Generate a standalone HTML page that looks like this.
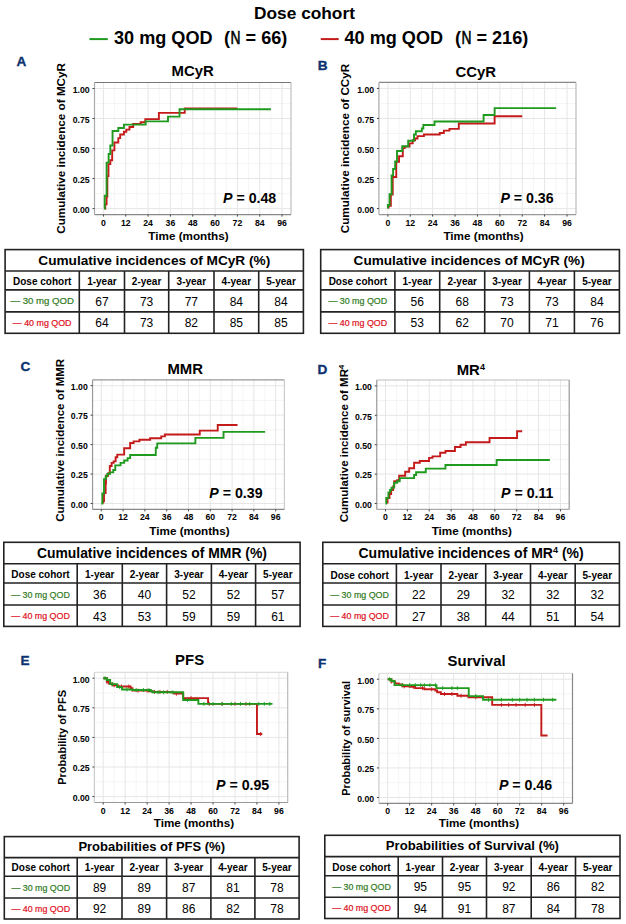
<!DOCTYPE html>
<html><head><meta charset="utf-8"><title>Dose cohort</title>
<style>
html,body{margin:0;padding:0;background:#fff;}
body{width:626px;height:924px;overflow:hidden;}
svg{display:block;font-family:"Liberation Sans", sans-serif;}
</style></head><body>
<svg width="626" height="924" viewBox="0 0 626 924">
<rect width="626" height="924" fill="#fff"/>
<text x="304.5" y="19.2" font-size="17.3" font-weight="bold" text-anchor="middle">Dose cohort</text>
<line x1="89.4" y1="39.1" x2="107.8" y2="39.1" stroke="#1f9a1f" stroke-width="2"/>
<text x="114" y="43.5" font-size="18.1" font-weight="bold">30 mg QOD</text>
<text x="224" y="43.5" font-size="18.1" font-weight="bold">(<tspan font-weight="normal" stroke="#000" stroke-width="0.6" dx="0.5" textLength="10" lengthAdjust="spacingAndGlyphs">N</tspan> = 66)</text>
<line x1="320.8" y1="39.1" x2="338.7" y2="39.1" stroke="#c41a1a" stroke-width="2"/>
<text x="344.5" y="43.5" font-size="18.1" font-weight="bold">40 mg QOD</text>
<text x="454.9" y="43.5" font-size="18.1" font-weight="bold">(<tspan font-weight="normal" stroke="#000" stroke-width="0.6" dx="0.5" textLength="10" lengthAdjust="spacingAndGlyphs">N</tspan> = 216)</text>
<rect x="94.5" y="82.5" width="196.5" height="132.1" fill="#fff"/>
<line x1="114.6" y1="82.5" x2="114.6" y2="214.6" stroke="#f1f1f1" stroke-width="0.7"/>
<line x1="136.93" y1="82.5" x2="136.93" y2="214.6" stroke="#f1f1f1" stroke-width="0.7"/>
<line x1="159.26" y1="82.5" x2="159.26" y2="214.6" stroke="#f1f1f1" stroke-width="0.7"/>
<line x1="181.59" y1="82.5" x2="181.59" y2="214.6" stroke="#f1f1f1" stroke-width="0.7"/>
<line x1="203.91" y1="82.5" x2="203.91" y2="214.6" stroke="#f1f1f1" stroke-width="0.7"/>
<line x1="226.24" y1="82.5" x2="226.24" y2="214.6" stroke="#f1f1f1" stroke-width="0.7"/>
<line x1="248.57" y1="82.5" x2="248.57" y2="214.6" stroke="#f1f1f1" stroke-width="0.7"/>
<line x1="270.9" y1="82.5" x2="270.9" y2="214.6" stroke="#f1f1f1" stroke-width="0.7"/>
<line x1="94.5" y1="193.58" x2="291" y2="193.58" stroke="#f1f1f1" stroke-width="0.7"/>
<line x1="94.5" y1="163.56" x2="291" y2="163.56" stroke="#f1f1f1" stroke-width="0.7"/>
<line x1="94.5" y1="133.54" x2="291" y2="133.54" stroke="#f1f1f1" stroke-width="0.7"/>
<line x1="94.5" y1="103.52" x2="291" y2="103.52" stroke="#f1f1f1" stroke-width="0.7"/>
<line x1="103.43" y1="82.5" x2="103.43" y2="214.6" stroke="#e6e6e6" stroke-width="1"/>
<line x1="125.76" y1="82.5" x2="125.76" y2="214.6" stroke="#e6e6e6" stroke-width="1"/>
<line x1="148.09" y1="82.5" x2="148.09" y2="214.6" stroke="#e6e6e6" stroke-width="1"/>
<line x1="170.42" y1="82.5" x2="170.42" y2="214.6" stroke="#e6e6e6" stroke-width="1"/>
<line x1="192.75" y1="82.5" x2="192.75" y2="214.6" stroke="#e6e6e6" stroke-width="1"/>
<line x1="215.08" y1="82.5" x2="215.08" y2="214.6" stroke="#e6e6e6" stroke-width="1"/>
<line x1="237.41" y1="82.5" x2="237.41" y2="214.6" stroke="#e6e6e6" stroke-width="1"/>
<line x1="259.74" y1="82.5" x2="259.74" y2="214.6" stroke="#e6e6e6" stroke-width="1"/>
<line x1="282.07" y1="82.5" x2="282.07" y2="214.6" stroke="#e6e6e6" stroke-width="1"/>
<line x1="94.5" y1="208.6" x2="291" y2="208.6" stroke="#e6e6e6" stroke-width="1"/>
<line x1="94.5" y1="178.57" x2="291" y2="178.57" stroke="#e6e6e6" stroke-width="1"/>
<line x1="94.5" y1="148.55" x2="291" y2="148.55" stroke="#e6e6e6" stroke-width="1"/>
<line x1="94.5" y1="118.53" x2="291" y2="118.53" stroke="#e6e6e6" stroke-width="1"/>
<line x1="94.5" y1="88.5" x2="291" y2="88.5" stroke="#e6e6e6" stroke-width="1"/>
<path d="M104.92,208.6 H105.29 V204.39 H106.6 V196.59 H107.34 V176.17 H108.46 V164.16 H110.32 V160.2 H112.18 V150.35 H114.41 V142.43 H118.32 V138.1 H120.18 V134.5 H123.9 V131.74 H126.32 V129.58 H129.48 V127.05 H133.2 V124.05 H140.65 V122.25 H145.3 V119.13 H158.88 V112.88 H184.75 V108.44 H237.41" fill="none" stroke="#c41a1a" stroke-width="1.9" stroke-linejoin="miter"/>
<path d="M103.99,208.6 H104.73 V195.75 H106.6 V162.6 H108.64 V154.07 H110.32 V145.43 H112.55 V131.02 H118.32 V128.01 H123.9 V124.65 H145.67 V121.41 H168 V116.61 H179.54 V109.28 H270.9" fill="none" stroke="#1f9a1f" stroke-width="1.9" stroke-linejoin="miter"/>
<line x1="94.5" y1="82.5" x2="291" y2="82.5" stroke="#777" stroke-width="1.2"/>
<line x1="291" y1="82.5" x2="291" y2="214.6" stroke="#c0c0c0" stroke-width="1.2"/>
<line x1="94.5" y1="214.6" x2="291" y2="214.6" stroke="#888" stroke-width="1.2"/>
<line x1="94.5" y1="82.5" x2="94.5" y2="214.6" stroke="#aaa" stroke-width="1.2"/>
<line x1="92.5" y1="208.6" x2="94.5" y2="208.6" stroke="#444" stroke-width="1"/>
<text x="89.7" y="212.9" font-size="8.7" font-weight="bold" text-anchor="end" fill="#000" >0.00</text>
<line x1="92.5" y1="178.57" x2="94.5" y2="178.57" stroke="#444" stroke-width="1"/>
<text x="89.7" y="182.87" font-size="8.7" font-weight="bold" text-anchor="end" fill="#000" >0.25</text>
<line x1="92.5" y1="148.55" x2="94.5" y2="148.55" stroke="#444" stroke-width="1"/>
<text x="89.7" y="152.85" font-size="8.7" font-weight="bold" text-anchor="end" fill="#000" >0.50</text>
<line x1="92.5" y1="118.53" x2="94.5" y2="118.53" stroke="#444" stroke-width="1"/>
<text x="89.7" y="122.83" font-size="8.7" font-weight="bold" text-anchor="end" fill="#000" >0.75</text>
<line x1="92.5" y1="88.5" x2="94.5" y2="88.5" stroke="#444" stroke-width="1"/>
<text x="89.7" y="92.8" font-size="8.7" font-weight="bold" text-anchor="end" fill="#000" >1.00</text>
<line x1="103.43" y1="214.6" x2="103.43" y2="216.6" stroke="#444" stroke-width="1"/>
<text x="103.43" y="225.6" font-size="8.7" font-weight="bold" text-anchor="middle" fill="#000" >0</text>
<line x1="125.76" y1="214.6" x2="125.76" y2="216.6" stroke="#444" stroke-width="1"/>
<text x="125.76" y="225.6" font-size="8.7" font-weight="bold" text-anchor="middle" fill="#000" >12</text>
<line x1="148.09" y1="214.6" x2="148.09" y2="216.6" stroke="#444" stroke-width="1"/>
<text x="148.09" y="225.6" font-size="8.7" font-weight="bold" text-anchor="middle" fill="#000" >24</text>
<line x1="170.42" y1="214.6" x2="170.42" y2="216.6" stroke="#444" stroke-width="1"/>
<text x="170.42" y="225.6" font-size="8.7" font-weight="bold" text-anchor="middle" fill="#000" >36</text>
<line x1="192.75" y1="214.6" x2="192.75" y2="216.6" stroke="#444" stroke-width="1"/>
<text x="192.75" y="225.6" font-size="8.7" font-weight="bold" text-anchor="middle" fill="#000" >48</text>
<line x1="215.08" y1="214.6" x2="215.08" y2="216.6" stroke="#444" stroke-width="1"/>
<text x="215.08" y="225.6" font-size="8.7" font-weight="bold" text-anchor="middle" fill="#000" >60</text>
<line x1="237.41" y1="214.6" x2="237.41" y2="216.6" stroke="#444" stroke-width="1"/>
<text x="237.41" y="225.6" font-size="8.7" font-weight="bold" text-anchor="middle" fill="#000" >72</text>
<line x1="259.74" y1="214.6" x2="259.74" y2="216.6" stroke="#444" stroke-width="1"/>
<text x="259.74" y="225.6" font-size="8.7" font-weight="bold" text-anchor="middle" fill="#000" >84</text>
<line x1="282.07" y1="214.6" x2="282.07" y2="216.6" stroke="#444" stroke-width="1"/>
<text x="282.07" y="225.6" font-size="8.7" font-weight="bold" text-anchor="middle" fill="#000" >96</text>
<text x="16.5" y="65.8" font-size="13.6" font-weight="bold" text-anchor="start" fill="#0e3270" stroke="#0e3270" stroke-width="0.35">A</text>
<text x="192.6" y="76.3" font-size="14.9" font-weight="bold" text-anchor="middle" fill="#000" >MCyR</text>
<text transform="translate(65.4,148.4) rotate(-90)" font-size="11.7" font-weight="bold" text-anchor="middle">Cumulative incidence of MCyR</text>
<text x="188.5" y="240.3" font-size="11.7" font-weight="bold" text-anchor="middle" fill="#000" >Time (months)</text>
<text x="223" y="202.7" font-size="14.2" font-weight="bold"><tspan font-style="italic">P</tspan> = 0.48</text>
<rect x="378.9" y="82.4" width="197.1" height="132.2" fill="#fff"/>
<line x1="399.06" y1="82.4" x2="399.06" y2="214.6" stroke="#f1f1f1" stroke-width="0.7"/>
<line x1="421.46" y1="82.4" x2="421.46" y2="214.6" stroke="#f1f1f1" stroke-width="0.7"/>
<line x1="443.85" y1="82.4" x2="443.85" y2="214.6" stroke="#f1f1f1" stroke-width="0.7"/>
<line x1="466.25" y1="82.4" x2="466.25" y2="214.6" stroke="#f1f1f1" stroke-width="0.7"/>
<line x1="488.65" y1="82.4" x2="488.65" y2="214.6" stroke="#f1f1f1" stroke-width="0.7"/>
<line x1="511.05" y1="82.4" x2="511.05" y2="214.6" stroke="#f1f1f1" stroke-width="0.7"/>
<line x1="533.44" y1="82.4" x2="533.44" y2="214.6" stroke="#f1f1f1" stroke-width="0.7"/>
<line x1="555.84" y1="82.4" x2="555.84" y2="214.6" stroke="#f1f1f1" stroke-width="0.7"/>
<line x1="378.9" y1="193.57" x2="576" y2="193.57" stroke="#f1f1f1" stroke-width="0.7"/>
<line x1="378.9" y1="163.52" x2="576" y2="163.52" stroke="#f1f1f1" stroke-width="0.7"/>
<line x1="378.9" y1="133.48" x2="576" y2="133.48" stroke="#f1f1f1" stroke-width="0.7"/>
<line x1="378.9" y1="103.43" x2="576" y2="103.43" stroke="#f1f1f1" stroke-width="0.7"/>
<line x1="387.86" y1="82.4" x2="387.86" y2="214.6" stroke="#e6e6e6" stroke-width="1"/>
<line x1="410.26" y1="82.4" x2="410.26" y2="214.6" stroke="#e6e6e6" stroke-width="1"/>
<line x1="432.65" y1="82.4" x2="432.65" y2="214.6" stroke="#e6e6e6" stroke-width="1"/>
<line x1="455.05" y1="82.4" x2="455.05" y2="214.6" stroke="#e6e6e6" stroke-width="1"/>
<line x1="477.45" y1="82.4" x2="477.45" y2="214.6" stroke="#e6e6e6" stroke-width="1"/>
<line x1="499.85" y1="82.4" x2="499.85" y2="214.6" stroke="#e6e6e6" stroke-width="1"/>
<line x1="522.25" y1="82.4" x2="522.25" y2="214.6" stroke="#e6e6e6" stroke-width="1"/>
<line x1="544.64" y1="82.4" x2="544.64" y2="214.6" stroke="#e6e6e6" stroke-width="1"/>
<line x1="567.04" y1="82.4" x2="567.04" y2="214.6" stroke="#e6e6e6" stroke-width="1"/>
<line x1="378.9" y1="208.59" x2="576" y2="208.59" stroke="#e6e6e6" stroke-width="1"/>
<line x1="378.9" y1="178.55" x2="576" y2="178.55" stroke="#e6e6e6" stroke-width="1"/>
<line x1="378.9" y1="148.5" x2="576" y2="148.5" stroke="#e6e6e6" stroke-width="1"/>
<line x1="378.9" y1="118.45" x2="576" y2="118.45" stroke="#e6e6e6" stroke-width="1"/>
<line x1="378.9" y1="88.41" x2="576" y2="88.41" stroke="#e6e6e6" stroke-width="1"/>
<path d="M388.61,208.59 H388.61 V205.83 H390.85 V194.65 H392.71 V176.98 H396.26 V161.84 H399.06 V156.19 H402.79 V148.14 H404.66 V146.58 H409.51 V143.33 H412.68 V140.21 H415.11 V138.52 H417.54 V136.12 H423.88 V134.56 H439.75 V133 H443.85 V130.59 H449.45 V128.91 H458.79 V123.5 H494.62 V116.29 H522.25" fill="none" stroke="#c41a1a" stroke-width="1.9" stroke-linejoin="miter"/>
<path d="M387.86,208.59 H387.86 V204.99 H389.54 V194.29 H391.59 V175.42 H393.09 V169.05 H395.14 V161.48 H397 V151.02 H402.23 V146.22 H408.2 V140.69 H413.99 V134.56 H415.86 V131.31 H421.83 V128.43 H423.32 V124.94 H434.52 V121.46 H483.61 V114.97 H494.62 V108.12 H556.22" fill="none" stroke="#1f9a1f" stroke-width="1.9" stroke-linejoin="miter"/>
<line x1="378.9" y1="82.4" x2="576" y2="82.4" stroke="#888" stroke-width="1.2"/>
<line x1="576" y1="82.4" x2="576" y2="214.6" stroke="#bbb" stroke-width="1.2"/>
<line x1="378.9" y1="214.6" x2="576" y2="214.6" stroke="#999" stroke-width="1.2"/>
<line x1="378.9" y1="82.4" x2="378.9" y2="214.6" stroke="#aaa" stroke-width="1.2"/>
<line x1="376.9" y1="208.59" x2="378.9" y2="208.59" stroke="#444" stroke-width="1"/>
<text x="374.1" y="212.89" font-size="8.7" font-weight="bold" text-anchor="end" fill="#000" >0.00</text>
<line x1="376.9" y1="178.55" x2="378.9" y2="178.55" stroke="#444" stroke-width="1"/>
<text x="374.1" y="182.85" font-size="8.7" font-weight="bold" text-anchor="end" fill="#000" >0.25</text>
<line x1="376.9" y1="148.5" x2="378.9" y2="148.5" stroke="#444" stroke-width="1"/>
<text x="374.1" y="152.8" font-size="8.7" font-weight="bold" text-anchor="end" fill="#000" >0.50</text>
<line x1="376.9" y1="118.45" x2="378.9" y2="118.45" stroke="#444" stroke-width="1"/>
<text x="374.1" y="122.75" font-size="8.7" font-weight="bold" text-anchor="end" fill="#000" >0.75</text>
<line x1="376.9" y1="88.41" x2="378.9" y2="88.41" stroke="#444" stroke-width="1"/>
<text x="374.1" y="92.71" font-size="8.7" font-weight="bold" text-anchor="end" fill="#000" >1.00</text>
<line x1="387.86" y1="214.6" x2="387.86" y2="216.6" stroke="#444" stroke-width="1"/>
<text x="387.86" y="225.6" font-size="8.7" font-weight="bold" text-anchor="middle" fill="#000" >0</text>
<line x1="410.26" y1="214.6" x2="410.26" y2="216.6" stroke="#444" stroke-width="1"/>
<text x="410.26" y="225.6" font-size="8.7" font-weight="bold" text-anchor="middle" fill="#000" >12</text>
<line x1="432.65" y1="214.6" x2="432.65" y2="216.6" stroke="#444" stroke-width="1"/>
<text x="432.65" y="225.6" font-size="8.7" font-weight="bold" text-anchor="middle" fill="#000" >24</text>
<line x1="455.05" y1="214.6" x2="455.05" y2="216.6" stroke="#444" stroke-width="1"/>
<text x="455.05" y="225.6" font-size="8.7" font-weight="bold" text-anchor="middle" fill="#000" >36</text>
<line x1="477.45" y1="214.6" x2="477.45" y2="216.6" stroke="#444" stroke-width="1"/>
<text x="477.45" y="225.6" font-size="8.7" font-weight="bold" text-anchor="middle" fill="#000" >48</text>
<line x1="499.85" y1="214.6" x2="499.85" y2="216.6" stroke="#444" stroke-width="1"/>
<text x="499.85" y="225.6" font-size="8.7" font-weight="bold" text-anchor="middle" fill="#000" >60</text>
<line x1="522.25" y1="214.6" x2="522.25" y2="216.6" stroke="#444" stroke-width="1"/>
<text x="522.25" y="225.6" font-size="8.7" font-weight="bold" text-anchor="middle" fill="#000" >72</text>
<line x1="544.64" y1="214.6" x2="544.64" y2="216.6" stroke="#444" stroke-width="1"/>
<text x="544.64" y="225.6" font-size="8.7" font-weight="bold" text-anchor="middle" fill="#000" >84</text>
<line x1="567.04" y1="214.6" x2="567.04" y2="216.6" stroke="#444" stroke-width="1"/>
<text x="567.04" y="225.6" font-size="8.7" font-weight="bold" text-anchor="middle" fill="#000" >96</text>
<text x="317.7" y="69.7" font-size="13.6" font-weight="bold" text-anchor="start" fill="#0e3270" stroke="#0e3270" stroke-width="0.35">B</text>
<text x="475.8" y="76.9" font-size="14.9" font-weight="bold" text-anchor="middle" fill="#000" >CCyR</text>
<text transform="translate(349.2,148.5) rotate(-90)" font-size="11.7" font-weight="bold" text-anchor="middle">Cumulative incidence of CCyR</text>
<text x="483.6" y="240.3" font-size="11.7" font-weight="bold" text-anchor="middle" fill="#000" >Time (months)</text>
<text x="500.4" y="203" font-size="14.2" font-weight="bold"><tspan font-style="italic">P</tspan> = 0.36</text>
<rect x="92.55" y="379.8" width="191.85" height="129.6" fill="#fff"/>
<line x1="112.17" y1="379.8" x2="112.17" y2="509.4" stroke="#f1f1f1" stroke-width="0.7"/>
<line x1="133.97" y1="379.8" x2="133.97" y2="509.4" stroke="#f1f1f1" stroke-width="0.7"/>
<line x1="155.77" y1="379.8" x2="155.77" y2="509.4" stroke="#f1f1f1" stroke-width="0.7"/>
<line x1="177.57" y1="379.8" x2="177.57" y2="509.4" stroke="#f1f1f1" stroke-width="0.7"/>
<line x1="199.38" y1="379.8" x2="199.38" y2="509.4" stroke="#f1f1f1" stroke-width="0.7"/>
<line x1="221.18" y1="379.8" x2="221.18" y2="509.4" stroke="#f1f1f1" stroke-width="0.7"/>
<line x1="242.98" y1="379.8" x2="242.98" y2="509.4" stroke="#f1f1f1" stroke-width="0.7"/>
<line x1="264.78" y1="379.8" x2="264.78" y2="509.4" stroke="#f1f1f1" stroke-width="0.7"/>
<line x1="92.55" y1="488.78" x2="284.4" y2="488.78" stroke="#f1f1f1" stroke-width="0.7"/>
<line x1="92.55" y1="459.33" x2="284.4" y2="459.33" stroke="#f1f1f1" stroke-width="0.7"/>
<line x1="92.55" y1="429.87" x2="284.4" y2="429.87" stroke="#f1f1f1" stroke-width="0.7"/>
<line x1="92.55" y1="400.42" x2="284.4" y2="400.42" stroke="#f1f1f1" stroke-width="0.7"/>
<line x1="101.27" y1="379.8" x2="101.27" y2="509.4" stroke="#e6e6e6" stroke-width="1"/>
<line x1="123.07" y1="379.8" x2="123.07" y2="509.4" stroke="#e6e6e6" stroke-width="1"/>
<line x1="144.87" y1="379.8" x2="144.87" y2="509.4" stroke="#e6e6e6" stroke-width="1"/>
<line x1="166.67" y1="379.8" x2="166.67" y2="509.4" stroke="#e6e6e6" stroke-width="1"/>
<line x1="188.47" y1="379.8" x2="188.47" y2="509.4" stroke="#e6e6e6" stroke-width="1"/>
<line x1="210.28" y1="379.8" x2="210.28" y2="509.4" stroke="#e6e6e6" stroke-width="1"/>
<line x1="232.08" y1="379.8" x2="232.08" y2="509.4" stroke="#e6e6e6" stroke-width="1"/>
<line x1="253.88" y1="379.8" x2="253.88" y2="509.4" stroke="#e6e6e6" stroke-width="1"/>
<line x1="275.68" y1="379.8" x2="275.68" y2="509.4" stroke="#e6e6e6" stroke-width="1"/>
<line x1="92.55" y1="503.51" x2="284.4" y2="503.51" stroke="#e6e6e6" stroke-width="1"/>
<line x1="92.55" y1="474.05" x2="284.4" y2="474.05" stroke="#e6e6e6" stroke-width="1"/>
<line x1="92.55" y1="444.6" x2="284.4" y2="444.6" stroke="#e6e6e6" stroke-width="1"/>
<line x1="92.55" y1="415.15" x2="284.4" y2="415.15" stroke="#e6e6e6" stroke-width="1"/>
<line x1="92.55" y1="385.69" x2="284.4" y2="385.69" stroke="#e6e6e6" stroke-width="1"/>
<path d="M103.27,503.51 H103.27 V501.15 H104 V493.14 H105.63 V483.48 H105.99 V475.82 H108.17 V473.23 H109.81 V466.04 H111.63 V462.86 H113.62 V461.33 H115.62 V457.32 H117.26 V454.61 H124.16 V448.25 H130.16 V442.95 H133.61 V441.42 H139.42 V439.77 H150.14 V438.24 H161.22 V436.35 H164.86 V434.47 H199.74 V430.58 H217.72 V425.04 H237.53" fill="none" stroke="#c41a1a" stroke-width="1.9" stroke-linejoin="miter"/>
<path d="M101.27,503.51 H102.36 V493.49 H104 V479.12 H105.63 V476.41 H107.27 V474.05 H109.81 V472.41 H113.26 V470.05 H115.26 V465.34 H120.53 V462.86 H124.16 V460.51 H127.61 V458.15 H130.16 V454.97 H155.77 V447.78 H157.23 V443.42 H195.38 V437.88 H223.54 V431.88 H265.14" fill="none" stroke="#1f9a1f" stroke-width="1.9" stroke-linejoin="miter"/>
<line x1="92.55" y1="379.8" x2="284.4" y2="379.8" stroke="#999" stroke-width="1.2"/>
<line x1="284.4" y1="379.8" x2="284.4" y2="509.4" stroke="#ccc" stroke-width="1.2"/>
<line x1="92.55" y1="509.4" x2="284.4" y2="509.4" stroke="#888" stroke-width="1.2"/>
<line x1="92.55" y1="379.8" x2="92.55" y2="509.4" stroke="#999" stroke-width="1.2"/>
<line x1="90.55" y1="503.51" x2="92.55" y2="503.51" stroke="#444" stroke-width="1"/>
<text x="87.75" y="507.81" font-size="8.7" font-weight="bold" text-anchor="end" fill="#000" >0.00</text>
<line x1="90.55" y1="474.05" x2="92.55" y2="474.05" stroke="#444" stroke-width="1"/>
<text x="87.75" y="478.35" font-size="8.7" font-weight="bold" text-anchor="end" fill="#000" >0.25</text>
<line x1="90.55" y1="444.6" x2="92.55" y2="444.6" stroke="#444" stroke-width="1"/>
<text x="87.75" y="448.9" font-size="8.7" font-weight="bold" text-anchor="end" fill="#000" >0.50</text>
<line x1="90.55" y1="415.15" x2="92.55" y2="415.15" stroke="#444" stroke-width="1"/>
<text x="87.75" y="419.45" font-size="8.7" font-weight="bold" text-anchor="end" fill="#000" >0.75</text>
<line x1="90.55" y1="385.69" x2="92.55" y2="385.69" stroke="#444" stroke-width="1"/>
<text x="87.75" y="389.99" font-size="8.7" font-weight="bold" text-anchor="end" fill="#000" >1.00</text>
<line x1="101.27" y1="509.4" x2="101.27" y2="511.4" stroke="#444" stroke-width="1"/>
<text x="101.27" y="520.4" font-size="8.7" font-weight="bold" text-anchor="middle" fill="#000" >0</text>
<line x1="123.07" y1="509.4" x2="123.07" y2="511.4" stroke="#444" stroke-width="1"/>
<text x="123.07" y="520.4" font-size="8.7" font-weight="bold" text-anchor="middle" fill="#000" >12</text>
<line x1="144.87" y1="509.4" x2="144.87" y2="511.4" stroke="#444" stroke-width="1"/>
<text x="144.87" y="520.4" font-size="8.7" font-weight="bold" text-anchor="middle" fill="#000" >24</text>
<line x1="166.67" y1="509.4" x2="166.67" y2="511.4" stroke="#444" stroke-width="1"/>
<text x="166.67" y="520.4" font-size="8.7" font-weight="bold" text-anchor="middle" fill="#000" >36</text>
<line x1="188.47" y1="509.4" x2="188.47" y2="511.4" stroke="#444" stroke-width="1"/>
<text x="188.47" y="520.4" font-size="8.7" font-weight="bold" text-anchor="middle" fill="#000" >48</text>
<line x1="210.28" y1="509.4" x2="210.28" y2="511.4" stroke="#444" stroke-width="1"/>
<text x="210.28" y="520.4" font-size="8.7" font-weight="bold" text-anchor="middle" fill="#000" >60</text>
<line x1="232.08" y1="509.4" x2="232.08" y2="511.4" stroke="#444" stroke-width="1"/>
<text x="232.08" y="520.4" font-size="8.7" font-weight="bold" text-anchor="middle" fill="#000" >72</text>
<line x1="253.88" y1="509.4" x2="253.88" y2="511.4" stroke="#444" stroke-width="1"/>
<text x="253.88" y="520.4" font-size="8.7" font-weight="bold" text-anchor="middle" fill="#000" >84</text>
<line x1="275.68" y1="509.4" x2="275.68" y2="511.4" stroke="#444" stroke-width="1"/>
<text x="275.68" y="520.4" font-size="8.7" font-weight="bold" text-anchor="middle" fill="#000" >96</text>
<text x="20.5" y="370.7" font-size="13.6" font-weight="bold" text-anchor="start" fill="#0e3270" stroke="#0e3270" stroke-width="0.35">C</text>
<text x="185.2" y="374" font-size="14.9" font-weight="bold" text-anchor="middle" fill="#000" >MMR</text>
<text transform="translate(64.3,440.3) rotate(-90)" font-size="11.5" font-weight="bold" text-anchor="middle">Cumulative incidence of MMR</text>
<text x="189.5" y="534.5" font-size="11.7" font-weight="bold" text-anchor="middle" fill="#000" >Time (months)</text>
<text x="209.3" y="498" font-size="14.2" font-weight="bold"><tspan font-style="italic">P</tspan> = 0.39</text>
<rect x="376.75" y="380" width="192.45" height="129.4" fill="#fff"/>
<line x1="396.43" y1="380" x2="396.43" y2="509.4" stroke="#f1f1f1" stroke-width="0.7"/>
<line x1="418.3" y1="380" x2="418.3" y2="509.4" stroke="#f1f1f1" stroke-width="0.7"/>
<line x1="440.17" y1="380" x2="440.17" y2="509.4" stroke="#f1f1f1" stroke-width="0.7"/>
<line x1="462.04" y1="380" x2="462.04" y2="509.4" stroke="#f1f1f1" stroke-width="0.7"/>
<line x1="483.91" y1="380" x2="483.91" y2="509.4" stroke="#f1f1f1" stroke-width="0.7"/>
<line x1="505.78" y1="380" x2="505.78" y2="509.4" stroke="#f1f1f1" stroke-width="0.7"/>
<line x1="527.65" y1="380" x2="527.65" y2="509.4" stroke="#f1f1f1" stroke-width="0.7"/>
<line x1="549.52" y1="380" x2="549.52" y2="509.4" stroke="#f1f1f1" stroke-width="0.7"/>
<line x1="376.75" y1="488.81" x2="569.2" y2="488.81" stroke="#f1f1f1" stroke-width="0.7"/>
<line x1="376.75" y1="459.4" x2="569.2" y2="459.4" stroke="#f1f1f1" stroke-width="0.7"/>
<line x1="376.75" y1="430" x2="569.2" y2="430" stroke="#f1f1f1" stroke-width="0.7"/>
<line x1="376.75" y1="400.59" x2="569.2" y2="400.59" stroke="#f1f1f1" stroke-width="0.7"/>
<line x1="385.5" y1="380" x2="385.5" y2="509.4" stroke="#e6e6e6" stroke-width="1"/>
<line x1="407.37" y1="380" x2="407.37" y2="509.4" stroke="#e6e6e6" stroke-width="1"/>
<line x1="429.24" y1="380" x2="429.24" y2="509.4" stroke="#e6e6e6" stroke-width="1"/>
<line x1="451.11" y1="380" x2="451.11" y2="509.4" stroke="#e6e6e6" stroke-width="1"/>
<line x1="472.98" y1="380" x2="472.98" y2="509.4" stroke="#e6e6e6" stroke-width="1"/>
<line x1="494.84" y1="380" x2="494.84" y2="509.4" stroke="#e6e6e6" stroke-width="1"/>
<line x1="516.71" y1="380" x2="516.71" y2="509.4" stroke="#e6e6e6" stroke-width="1"/>
<line x1="538.58" y1="380" x2="538.58" y2="509.4" stroke="#e6e6e6" stroke-width="1"/>
<line x1="560.45" y1="380" x2="560.45" y2="509.4" stroke="#e6e6e6" stroke-width="1"/>
<line x1="376.75" y1="503.52" x2="569.2" y2="503.52" stroke="#e6e6e6" stroke-width="1"/>
<line x1="376.75" y1="474.11" x2="569.2" y2="474.11" stroke="#e6e6e6" stroke-width="1"/>
<line x1="376.75" y1="444.7" x2="569.2" y2="444.7" stroke="#e6e6e6" stroke-width="1"/>
<line x1="376.75" y1="415.29" x2="569.2" y2="415.29" stroke="#e6e6e6" stroke-width="1"/>
<line x1="376.75" y1="385.88" x2="569.2" y2="385.88" stroke="#e6e6e6" stroke-width="1"/>
<path d="M387.5,503.52 H387.5 V497.99 H389.51 V493.99 H391.15 V489.99 H393.15 V486.46 H394.25 V481.28 H397.16 V480.11 H399.17 V475.76 H405.18 V471.76 H409.19 V468.23 H414.11 V462.7 H419.76 V461.05 H429.05 V457.88 H432.52 V456.35 H440.17 V452.7 H445.46 V451.05 H454.93 V447.05 H460.58 V444.7 H465.87 V442.23 H489.56 V437.99 H517.08 V431.29 H522.18" fill="none" stroke="#c41a1a" stroke-width="1.9" stroke-linejoin="miter"/>
<path d="M385.5,503.52 H386.23 V497.99 H388.41 V492.34 H390.05 V489.99 H391.51 V487.64 H394.06 V482.81 H397.16 V481.28 H399.71 V478.11 H414.11 V474.93 H416.11 V472.23 H425.77 V468.58 H445.46 V465.05 H496.67 V459.99 H549.88" fill="none" stroke="#1f9a1f" stroke-width="1.9" stroke-linejoin="miter"/>
<line x1="376.75" y1="380" x2="569.2" y2="380" stroke="#bbb" stroke-width="1.2"/>
<line x1="569.2" y1="380" x2="569.2" y2="509.4" stroke="#999" stroke-width="1.2"/>
<line x1="376.75" y1="509.4" x2="569.2" y2="509.4" stroke="#aaa" stroke-width="1.2"/>
<line x1="376.75" y1="380" x2="376.75" y2="509.4" stroke="#999" stroke-width="1.2"/>
<line x1="374.75" y1="503.52" x2="376.75" y2="503.52" stroke="#444" stroke-width="1"/>
<text x="371.95" y="507.82" font-size="8.7" font-weight="bold" text-anchor="end" fill="#000" >0.00</text>
<line x1="374.75" y1="474.11" x2="376.75" y2="474.11" stroke="#444" stroke-width="1"/>
<text x="371.95" y="478.41" font-size="8.7" font-weight="bold" text-anchor="end" fill="#000" >0.25</text>
<line x1="374.75" y1="444.7" x2="376.75" y2="444.7" stroke="#444" stroke-width="1"/>
<text x="371.95" y="449" font-size="8.7" font-weight="bold" text-anchor="end" fill="#000" >0.50</text>
<line x1="374.75" y1="415.29" x2="376.75" y2="415.29" stroke="#444" stroke-width="1"/>
<text x="371.95" y="419.59" font-size="8.7" font-weight="bold" text-anchor="end" fill="#000" >0.75</text>
<line x1="374.75" y1="385.88" x2="376.75" y2="385.88" stroke="#444" stroke-width="1"/>
<text x="371.95" y="390.18" font-size="8.7" font-weight="bold" text-anchor="end" fill="#000" >1.00</text>
<line x1="385.5" y1="509.4" x2="385.5" y2="511.4" stroke="#444" stroke-width="1"/>
<text x="385.5" y="520.4" font-size="8.7" font-weight="bold" text-anchor="middle" fill="#000" >0</text>
<line x1="407.37" y1="509.4" x2="407.37" y2="511.4" stroke="#444" stroke-width="1"/>
<text x="407.37" y="520.4" font-size="8.7" font-weight="bold" text-anchor="middle" fill="#000" >12</text>
<line x1="429.24" y1="509.4" x2="429.24" y2="511.4" stroke="#444" stroke-width="1"/>
<text x="429.24" y="520.4" font-size="8.7" font-weight="bold" text-anchor="middle" fill="#000" >24</text>
<line x1="451.11" y1="509.4" x2="451.11" y2="511.4" stroke="#444" stroke-width="1"/>
<text x="451.11" y="520.4" font-size="8.7" font-weight="bold" text-anchor="middle" fill="#000" >36</text>
<line x1="472.98" y1="509.4" x2="472.98" y2="511.4" stroke="#444" stroke-width="1"/>
<text x="472.98" y="520.4" font-size="8.7" font-weight="bold" text-anchor="middle" fill="#000" >48</text>
<line x1="494.84" y1="509.4" x2="494.84" y2="511.4" stroke="#444" stroke-width="1"/>
<text x="494.84" y="520.4" font-size="8.7" font-weight="bold" text-anchor="middle" fill="#000" >60</text>
<line x1="516.71" y1="509.4" x2="516.71" y2="511.4" stroke="#444" stroke-width="1"/>
<text x="516.71" y="520.4" font-size="8.7" font-weight="bold" text-anchor="middle" fill="#000" >72</text>
<line x1="538.58" y1="509.4" x2="538.58" y2="511.4" stroke="#444" stroke-width="1"/>
<text x="538.58" y="520.4" font-size="8.7" font-weight="bold" text-anchor="middle" fill="#000" >84</text>
<line x1="560.45" y1="509.4" x2="560.45" y2="511.4" stroke="#444" stroke-width="1"/>
<text x="560.45" y="520.4" font-size="8.7" font-weight="bold" text-anchor="middle" fill="#000" >96</text>
<text x="317.4" y="374" font-size="13.6" font-weight="bold" text-anchor="start" fill="#0e3270" stroke="#0e3270" stroke-width="0.35">D</text>
<text x="470.8" y="374.7" font-size="14.9" font-weight="bold" text-anchor="middle" fill="#000" >MR<tspan font-size="9" dy="-5">4</tspan></text>
<text transform="translate(348.3,443.6) rotate(-90)" font-size="11.5" font-weight="bold" text-anchor="middle">Cumulative incidence of MR<tspan font-size="7.5" dy="-4">4</tspan></text>
<text x="471.8" y="534.5" font-size="11.7" font-weight="bold" text-anchor="middle" fill="#000" >Time (months)</text>
<text x="501" y="498" font-size="14.2" font-weight="bold"><tspan font-style="italic">P</tspan> = 0.11</text>
<rect x="94.4" y="672.3" width="193.3" height="130.2" fill="#fff"/>
<line x1="114.17" y1="672.3" x2="114.17" y2="802.5" stroke="#f1f1f1" stroke-width="0.7"/>
<line x1="136.14" y1="672.3" x2="136.14" y2="802.5" stroke="#f1f1f1" stroke-width="0.7"/>
<line x1="158.1" y1="672.3" x2="158.1" y2="802.5" stroke="#f1f1f1" stroke-width="0.7"/>
<line x1="180.07" y1="672.3" x2="180.07" y2="802.5" stroke="#f1f1f1" stroke-width="0.7"/>
<line x1="202.03" y1="672.3" x2="202.03" y2="802.5" stroke="#f1f1f1" stroke-width="0.7"/>
<line x1="224" y1="672.3" x2="224" y2="802.5" stroke="#f1f1f1" stroke-width="0.7"/>
<line x1="245.96" y1="672.3" x2="245.96" y2="802.5" stroke="#f1f1f1" stroke-width="0.7"/>
<line x1="267.93" y1="672.3" x2="267.93" y2="802.5" stroke="#f1f1f1" stroke-width="0.7"/>
<line x1="94.4" y1="781.79" x2="287.7" y2="781.79" stroke="#f1f1f1" stroke-width="0.7"/>
<line x1="94.4" y1="752.2" x2="287.7" y2="752.2" stroke="#f1f1f1" stroke-width="0.7"/>
<line x1="94.4" y1="722.6" x2="287.7" y2="722.6" stroke="#f1f1f1" stroke-width="0.7"/>
<line x1="94.4" y1="693.01" x2="287.7" y2="693.01" stroke="#f1f1f1" stroke-width="0.7"/>
<line x1="103.19" y1="672.3" x2="103.19" y2="802.5" stroke="#e6e6e6" stroke-width="1"/>
<line x1="125.15" y1="672.3" x2="125.15" y2="802.5" stroke="#e6e6e6" stroke-width="1"/>
<line x1="147.12" y1="672.3" x2="147.12" y2="802.5" stroke="#e6e6e6" stroke-width="1"/>
<line x1="169.08" y1="672.3" x2="169.08" y2="802.5" stroke="#e6e6e6" stroke-width="1"/>
<line x1="191.05" y1="672.3" x2="191.05" y2="802.5" stroke="#e6e6e6" stroke-width="1"/>
<line x1="213.02" y1="672.3" x2="213.02" y2="802.5" stroke="#e6e6e6" stroke-width="1"/>
<line x1="234.98" y1="672.3" x2="234.98" y2="802.5" stroke="#e6e6e6" stroke-width="1"/>
<line x1="256.95" y1="672.3" x2="256.95" y2="802.5" stroke="#e6e6e6" stroke-width="1"/>
<line x1="278.91" y1="672.3" x2="278.91" y2="802.5" stroke="#e6e6e6" stroke-width="1"/>
<line x1="94.4" y1="796.58" x2="287.7" y2="796.58" stroke="#e6e6e6" stroke-width="1"/>
<line x1="94.4" y1="766.99" x2="287.7" y2="766.99" stroke="#e6e6e6" stroke-width="1"/>
<line x1="94.4" y1="737.4" x2="287.7" y2="737.4" stroke="#e6e6e6" stroke-width="1"/>
<line x1="94.4" y1="707.81" x2="287.7" y2="707.81" stroke="#e6e6e6" stroke-width="1"/>
<line x1="94.4" y1="678.22" x2="287.7" y2="678.22" stroke="#e6e6e6" stroke-width="1"/>
<path d="M103.19,678.22 H106.85 V681.77 H108.68 V683.54 H112.34 V685.32 H117.83 V686.5 H130.64 V688.28 H132.47 V690.65 H148.95 V691.24 H152.61 V691.83 H170.91 V692.42 H174.21 V693.61 H183.18 V698.1 H208.07 V703.9 H256.95 V733.97 H262.26" fill="none" stroke="#c41a1a" stroke-width="1.9" stroke-linejoin="miter"/>
<line x1="106.85" y1="679.77" x2="106.85" y2="683.77" stroke="#c41a1a" stroke-width="0.9"/>
<line x1="114.17" y1="683.32" x2="114.17" y2="687.32" stroke="#c41a1a" stroke-width="0.9"/>
<line x1="121.49" y1="684.5" x2="121.49" y2="688.5" stroke="#c41a1a" stroke-width="0.9"/>
<line x1="128.81" y1="684.5" x2="128.81" y2="688.5" stroke="#c41a1a" stroke-width="0.9"/>
<line x1="137.97" y1="688.65" x2="137.97" y2="692.65" stroke="#c41a1a" stroke-width="0.9"/>
<line x1="147.12" y1="688.65" x2="147.12" y2="692.65" stroke="#c41a1a" stroke-width="0.9"/>
<line x1="154.44" y1="689.83" x2="154.44" y2="693.83" stroke="#c41a1a" stroke-width="0.9"/>
<line x1="159.93" y1="689.83" x2="159.93" y2="693.83" stroke="#c41a1a" stroke-width="0.9"/>
<line x1="167.25" y1="689.83" x2="167.25" y2="693.83" stroke="#c41a1a" stroke-width="0.9"/>
<line x1="176.41" y1="691.61" x2="176.41" y2="695.61" stroke="#c41a1a" stroke-width="0.9"/>
<line x1="191.05" y1="696.1" x2="191.05" y2="700.1" stroke="#c41a1a" stroke-width="0.9"/>
<line x1="209.35" y1="701.9" x2="209.35" y2="705.9" stroke="#c41a1a" stroke-width="0.9"/>
<line x1="222.17" y1="701.9" x2="222.17" y2="705.9" stroke="#c41a1a" stroke-width="0.9"/>
<line x1="234.98" y1="701.9" x2="234.98" y2="705.9" stroke="#c41a1a" stroke-width="0.9"/>
<line x1="245.96" y1="701.9" x2="245.96" y2="705.9" stroke="#c41a1a" stroke-width="0.9"/>
<line x1="260.61" y1="731.97" x2="260.61" y2="735.97" stroke="#c41a1a" stroke-width="0.9"/>
<path d="M103.19,678.22 H106.85 V679.99 H110.14 V684.14 H117.1 V687.1 H122.04 V689.46 H132.47 V690.05 H150.78 V691.24 H152.61 V692.3 H183.18 V700 H198.37 V703.9 H272.51" fill="none" stroke="#1f9a1f" stroke-width="1.9" stroke-linejoin="miter"/>
<line x1="105.02" y1="676.22" x2="105.02" y2="680.22" stroke="#1f9a1f" stroke-width="0.9"/>
<line x1="112.34" y1="682.14" x2="112.34" y2="686.14" stroke="#1f9a1f" stroke-width="0.9"/>
<line x1="119.66" y1="685.1" x2="119.66" y2="689.1" stroke="#1f9a1f" stroke-width="0.9"/>
<line x1="126.98" y1="687.46" x2="126.98" y2="691.46" stroke="#1f9a1f" stroke-width="0.9"/>
<line x1="136.14" y1="688.05" x2="136.14" y2="692.05" stroke="#1f9a1f" stroke-width="0.9"/>
<line x1="143.46" y1="688.05" x2="143.46" y2="692.05" stroke="#1f9a1f" stroke-width="0.9"/>
<line x1="148.95" y1="688.05" x2="148.95" y2="692.05" stroke="#1f9a1f" stroke-width="0.9"/>
<line x1="158.1" y1="690.3" x2="158.1" y2="694.3" stroke="#1f9a1f" stroke-width="0.9"/>
<line x1="163.59" y1="690.3" x2="163.59" y2="694.3" stroke="#1f9a1f" stroke-width="0.9"/>
<line x1="172.75" y1="690.3" x2="172.75" y2="694.3" stroke="#1f9a1f" stroke-width="0.9"/>
<line x1="187.39" y1="698" x2="187.39" y2="702" stroke="#1f9a1f" stroke-width="0.9"/>
<line x1="203.86" y1="701.9" x2="203.86" y2="705.9" stroke="#1f9a1f" stroke-width="0.9"/>
<line x1="213.02" y1="701.9" x2="213.02" y2="705.9" stroke="#1f9a1f" stroke-width="0.9"/>
<line x1="222.17" y1="701.9" x2="222.17" y2="705.9" stroke="#1f9a1f" stroke-width="0.9"/>
<line x1="231.32" y1="701.9" x2="231.32" y2="705.9" stroke="#1f9a1f" stroke-width="0.9"/>
<line x1="240.47" y1="701.9" x2="240.47" y2="705.9" stroke="#1f9a1f" stroke-width="0.9"/>
<line x1="249.63" y1="701.9" x2="249.63" y2="705.9" stroke="#1f9a1f" stroke-width="0.9"/>
<line x1="258.78" y1="701.9" x2="258.78" y2="705.9" stroke="#1f9a1f" stroke-width="0.9"/>
<line x1="264.27" y1="701.9" x2="264.27" y2="705.9" stroke="#1f9a1f" stroke-width="0.9"/>
<line x1="269.76" y1="701.9" x2="269.76" y2="705.9" stroke="#1f9a1f" stroke-width="0.9"/>
<line x1="94.4" y1="672.3" x2="287.7" y2="672.3" stroke="#ddd" stroke-width="1.2"/>
<line x1="287.7" y1="672.3" x2="287.7" y2="802.5" stroke="#bbb" stroke-width="1.2"/>
<line x1="94.4" y1="802.5" x2="287.7" y2="802.5" stroke="#999" stroke-width="1.2"/>
<line x1="94.4" y1="672.3" x2="94.4" y2="802.5" stroke="#ccc" stroke-width="1.2"/>
<line x1="92.4" y1="796.58" x2="94.4" y2="796.58" stroke="#444" stroke-width="1"/>
<text x="89.6" y="800.88" font-size="8.7" font-weight="bold" text-anchor="end" fill="#000" >0.00</text>
<line x1="92.4" y1="766.99" x2="94.4" y2="766.99" stroke="#444" stroke-width="1"/>
<text x="89.6" y="771.29" font-size="8.7" font-weight="bold" text-anchor="end" fill="#000" >0.25</text>
<line x1="92.4" y1="737.4" x2="94.4" y2="737.4" stroke="#444" stroke-width="1"/>
<text x="89.6" y="741.7" font-size="8.7" font-weight="bold" text-anchor="end" fill="#000" >0.50</text>
<line x1="92.4" y1="707.81" x2="94.4" y2="707.81" stroke="#444" stroke-width="1"/>
<text x="89.6" y="712.11" font-size="8.7" font-weight="bold" text-anchor="end" fill="#000" >0.75</text>
<line x1="92.4" y1="678.22" x2="94.4" y2="678.22" stroke="#444" stroke-width="1"/>
<text x="89.6" y="682.52" font-size="8.7" font-weight="bold" text-anchor="end" fill="#000" >1.00</text>
<line x1="103.19" y1="802.5" x2="103.19" y2="804.5" stroke="#444" stroke-width="1"/>
<text x="103.19" y="813.5" font-size="8.7" font-weight="bold" text-anchor="middle" fill="#000" >0</text>
<line x1="125.15" y1="802.5" x2="125.15" y2="804.5" stroke="#444" stroke-width="1"/>
<text x="125.15" y="813.5" font-size="8.7" font-weight="bold" text-anchor="middle" fill="#000" >12</text>
<line x1="147.12" y1="802.5" x2="147.12" y2="804.5" stroke="#444" stroke-width="1"/>
<text x="147.12" y="813.5" font-size="8.7" font-weight="bold" text-anchor="middle" fill="#000" >24</text>
<line x1="169.08" y1="802.5" x2="169.08" y2="804.5" stroke="#444" stroke-width="1"/>
<text x="169.08" y="813.5" font-size="8.7" font-weight="bold" text-anchor="middle" fill="#000" >36</text>
<line x1="191.05" y1="802.5" x2="191.05" y2="804.5" stroke="#444" stroke-width="1"/>
<text x="191.05" y="813.5" font-size="8.7" font-weight="bold" text-anchor="middle" fill="#000" >48</text>
<line x1="213.02" y1="802.5" x2="213.02" y2="804.5" stroke="#444" stroke-width="1"/>
<text x="213.02" y="813.5" font-size="8.7" font-weight="bold" text-anchor="middle" fill="#000" >60</text>
<line x1="234.98" y1="802.5" x2="234.98" y2="804.5" stroke="#444" stroke-width="1"/>
<text x="234.98" y="813.5" font-size="8.7" font-weight="bold" text-anchor="middle" fill="#000" >72</text>
<line x1="256.95" y1="802.5" x2="256.95" y2="804.5" stroke="#444" stroke-width="1"/>
<text x="256.95" y="813.5" font-size="8.7" font-weight="bold" text-anchor="middle" fill="#000" >84</text>
<line x1="278.91" y1="802.5" x2="278.91" y2="804.5" stroke="#444" stroke-width="1"/>
<text x="278.91" y="813.5" font-size="8.7" font-weight="bold" text-anchor="middle" fill="#000" >96</text>
<text x="20.5" y="665.3" font-size="13.6" font-weight="bold" text-anchor="start" fill="#0e3270" stroke="#0e3270" stroke-width="0.35">E</text>
<text x="189.6" y="665.3" font-size="14.9" font-weight="bold" text-anchor="middle" fill="#000" >PFS</text>
<text transform="translate(65.6,737.4) rotate(-90)" font-size="11" font-weight="bold" text-anchor="middle">Probability of PFS</text>
<text x="193.9" y="826.5" font-size="11.7" font-weight="bold" text-anchor="middle" fill="#000" >Time (months)</text>
<text x="216" y="789.8" font-size="14.2" font-weight="bold"><tspan font-style="italic">P</tspan> = 0.95</text>
<rect x="378.9" y="673.3" width="193.6" height="130.15" fill="#fff"/>
<line x1="398.7" y1="673.3" x2="398.7" y2="803.45" stroke="#f1f1f1" stroke-width="0.7"/>
<line x1="420.7" y1="673.3" x2="420.7" y2="803.45" stroke="#f1f1f1" stroke-width="0.7"/>
<line x1="442.7" y1="673.3" x2="442.7" y2="803.45" stroke="#f1f1f1" stroke-width="0.7"/>
<line x1="464.7" y1="673.3" x2="464.7" y2="803.45" stroke="#f1f1f1" stroke-width="0.7"/>
<line x1="486.7" y1="673.3" x2="486.7" y2="803.45" stroke="#f1f1f1" stroke-width="0.7"/>
<line x1="508.7" y1="673.3" x2="508.7" y2="803.45" stroke="#f1f1f1" stroke-width="0.7"/>
<line x1="530.7" y1="673.3" x2="530.7" y2="803.45" stroke="#f1f1f1" stroke-width="0.7"/>
<line x1="552.7" y1="673.3" x2="552.7" y2="803.45" stroke="#f1f1f1" stroke-width="0.7"/>
<line x1="378.9" y1="782.74" x2="572.5" y2="782.74" stroke="#f1f1f1" stroke-width="0.7"/>
<line x1="378.9" y1="753.16" x2="572.5" y2="753.16" stroke="#f1f1f1" stroke-width="0.7"/>
<line x1="378.9" y1="723.59" x2="572.5" y2="723.59" stroke="#f1f1f1" stroke-width="0.7"/>
<line x1="378.9" y1="694.01" x2="572.5" y2="694.01" stroke="#f1f1f1" stroke-width="0.7"/>
<line x1="387.7" y1="673.3" x2="387.7" y2="803.45" stroke="#e6e6e6" stroke-width="1"/>
<line x1="409.7" y1="673.3" x2="409.7" y2="803.45" stroke="#e6e6e6" stroke-width="1"/>
<line x1="431.7" y1="673.3" x2="431.7" y2="803.45" stroke="#e6e6e6" stroke-width="1"/>
<line x1="453.7" y1="673.3" x2="453.7" y2="803.45" stroke="#e6e6e6" stroke-width="1"/>
<line x1="475.7" y1="673.3" x2="475.7" y2="803.45" stroke="#e6e6e6" stroke-width="1"/>
<line x1="497.7" y1="673.3" x2="497.7" y2="803.45" stroke="#e6e6e6" stroke-width="1"/>
<line x1="519.7" y1="673.3" x2="519.7" y2="803.45" stroke="#e6e6e6" stroke-width="1"/>
<line x1="541.7" y1="673.3" x2="541.7" y2="803.45" stroke="#e6e6e6" stroke-width="1"/>
<line x1="563.7" y1="673.3" x2="563.7" y2="803.45" stroke="#e6e6e6" stroke-width="1"/>
<line x1="378.9" y1="797.53" x2="572.5" y2="797.53" stroke="#e6e6e6" stroke-width="1"/>
<line x1="378.9" y1="767.95" x2="572.5" y2="767.95" stroke="#e6e6e6" stroke-width="1"/>
<line x1="378.9" y1="738.38" x2="572.5" y2="738.38" stroke="#e6e6e6" stroke-width="1"/>
<line x1="378.9" y1="708.8" x2="572.5" y2="708.8" stroke="#e6e6e6" stroke-width="1"/>
<line x1="378.9" y1="679.22" x2="572.5" y2="679.22" stroke="#e6e6e6" stroke-width="1"/>
<path d="M387.7,679.22 H391.37 V681.58 H395.03 V683.36 H398.7 V684.54 H402.37 V686.32 H409.7 V686.91 H415.2 V688.09 H424.37 V689.27 H435.37 V690.46 H437.2 V692.23 H440.87 V694.01 H457.37 V695.78 H468.37 V697.2 H492.2 V704.89 H541.33 V735.54 H547.57" fill="none" stroke="#c41a1a" stroke-width="1.9" stroke-linejoin="miter"/>
<line x1="391.37" y1="679.58" x2="391.37" y2="683.58" stroke="#c41a1a" stroke-width="0.9"/>
<line x1="404.2" y1="684.32" x2="404.2" y2="688.32" stroke="#c41a1a" stroke-width="0.9"/>
<line x1="413.37" y1="684.91" x2="413.37" y2="688.91" stroke="#c41a1a" stroke-width="0.9"/>
<line x1="422.53" y1="686.09" x2="422.53" y2="690.09" stroke="#c41a1a" stroke-width="0.9"/>
<line x1="431.7" y1="687.27" x2="431.7" y2="691.27" stroke="#c41a1a" stroke-width="0.9"/>
<line x1="444.53" y1="692.01" x2="444.53" y2="696.01" stroke="#c41a1a" stroke-width="0.9"/>
<line x1="451.87" y1="692.01" x2="451.87" y2="696.01" stroke="#c41a1a" stroke-width="0.9"/>
<line x1="461.03" y1="693.78" x2="461.03" y2="697.78" stroke="#c41a1a" stroke-width="0.9"/>
<line x1="475.7" y1="695.2" x2="475.7" y2="699.2" stroke="#c41a1a" stroke-width="0.9"/>
<line x1="501.37" y1="702.89" x2="501.37" y2="706.89" stroke="#c41a1a" stroke-width="0.9"/>
<line x1="508.7" y1="702.89" x2="508.7" y2="706.89" stroke="#c41a1a" stroke-width="0.9"/>
<line x1="516.03" y1="702.89" x2="516.03" y2="706.89" stroke="#c41a1a" stroke-width="0.9"/>
<line x1="525.2" y1="702.89" x2="525.2" y2="706.89" stroke="#c41a1a" stroke-width="0.9"/>
<line x1="534.37" y1="702.89" x2="534.37" y2="706.89" stroke="#c41a1a" stroke-width="0.9"/>
<path d="M387.7,679.22 H391.37 V680.99 H394.48 V685.13 H436.47 V688.09 H468.73 V696.14 H483.03 V699.8 H556.37" fill="none" stroke="#1f9a1f" stroke-width="1.9" stroke-linejoin="miter"/>
<line x1="389.53" y1="677.22" x2="389.53" y2="681.22" stroke="#1f9a1f" stroke-width="0.9"/>
<line x1="402.37" y1="683.13" x2="402.37" y2="687.13" stroke="#1f9a1f" stroke-width="0.9"/>
<line x1="409.7" y1="683.13" x2="409.7" y2="687.13" stroke="#1f9a1f" stroke-width="0.9"/>
<line x1="415.2" y1="683.13" x2="415.2" y2="687.13" stroke="#1f9a1f" stroke-width="0.9"/>
<line x1="420.7" y1="683.13" x2="420.7" y2="687.13" stroke="#1f9a1f" stroke-width="0.9"/>
<line x1="424.37" y1="683.13" x2="424.37" y2="687.13" stroke="#1f9a1f" stroke-width="0.9"/>
<line x1="429.87" y1="683.13" x2="429.87" y2="687.13" stroke="#1f9a1f" stroke-width="0.9"/>
<line x1="435.37" y1="683.13" x2="435.37" y2="687.13" stroke="#1f9a1f" stroke-width="0.9"/>
<line x1="442.7" y1="686.09" x2="442.7" y2="690.09" stroke="#1f9a1f" stroke-width="0.9"/>
<line x1="451.87" y1="686.09" x2="451.87" y2="690.09" stroke="#1f9a1f" stroke-width="0.9"/>
<line x1="457.37" y1="686.09" x2="457.37" y2="690.09" stroke="#1f9a1f" stroke-width="0.9"/>
<line x1="475.7" y1="694.14" x2="475.7" y2="698.14" stroke="#1f9a1f" stroke-width="0.9"/>
<line x1="488.53" y1="697.8" x2="488.53" y2="701.8" stroke="#1f9a1f" stroke-width="0.9"/>
<line x1="501.37" y1="697.8" x2="501.37" y2="701.8" stroke="#1f9a1f" stroke-width="0.9"/>
<line x1="512.37" y1="697.8" x2="512.37" y2="701.8" stroke="#1f9a1f" stroke-width="0.9"/>
<line x1="519.7" y1="697.8" x2="519.7" y2="701.8" stroke="#1f9a1f" stroke-width="0.9"/>
<line x1="527.03" y1="697.8" x2="527.03" y2="701.8" stroke="#1f9a1f" stroke-width="0.9"/>
<line x1="534.37" y1="697.8" x2="534.37" y2="701.8" stroke="#1f9a1f" stroke-width="0.9"/>
<line x1="543.53" y1="697.8" x2="543.53" y2="701.8" stroke="#1f9a1f" stroke-width="0.9"/>
<line x1="552.7" y1="697.8" x2="552.7" y2="701.8" stroke="#1f9a1f" stroke-width="0.9"/>
<line x1="378.9" y1="673.3" x2="572.5" y2="673.3" stroke="#e0e0e0" stroke-width="1.2"/>
<line x1="572.5" y1="673.3" x2="572.5" y2="803.45" stroke="#888" stroke-width="1.2"/>
<line x1="378.9" y1="803.45" x2="572.5" y2="803.45" stroke="#888" stroke-width="1.2"/>
<line x1="378.9" y1="673.3" x2="378.9" y2="803.45" stroke="#ccc" stroke-width="1.2"/>
<line x1="376.9" y1="797.53" x2="378.9" y2="797.53" stroke="#444" stroke-width="1"/>
<text x="374.1" y="801.83" font-size="8.7" font-weight="bold" text-anchor="end" fill="#000" >0.00</text>
<line x1="376.9" y1="767.95" x2="378.9" y2="767.95" stroke="#444" stroke-width="1"/>
<text x="374.1" y="772.25" font-size="8.7" font-weight="bold" text-anchor="end" fill="#000" >0.25</text>
<line x1="376.9" y1="738.38" x2="378.9" y2="738.38" stroke="#444" stroke-width="1"/>
<text x="374.1" y="742.67" font-size="8.7" font-weight="bold" text-anchor="end" fill="#000" >0.50</text>
<line x1="376.9" y1="708.8" x2="378.9" y2="708.8" stroke="#444" stroke-width="1"/>
<text x="374.1" y="713.1" font-size="8.7" font-weight="bold" text-anchor="end" fill="#000" >0.75</text>
<line x1="376.9" y1="679.22" x2="378.9" y2="679.22" stroke="#444" stroke-width="1"/>
<text x="374.1" y="683.52" font-size="8.7" font-weight="bold" text-anchor="end" fill="#000" >1.00</text>
<line x1="387.7" y1="803.45" x2="387.7" y2="805.45" stroke="#444" stroke-width="1"/>
<text x="387.7" y="814.45" font-size="8.7" font-weight="bold" text-anchor="middle" fill="#000" >0</text>
<line x1="409.7" y1="803.45" x2="409.7" y2="805.45" stroke="#444" stroke-width="1"/>
<text x="409.7" y="814.45" font-size="8.7" font-weight="bold" text-anchor="middle" fill="#000" >12</text>
<line x1="431.7" y1="803.45" x2="431.7" y2="805.45" stroke="#444" stroke-width="1"/>
<text x="431.7" y="814.45" font-size="8.7" font-weight="bold" text-anchor="middle" fill="#000" >24</text>
<line x1="453.7" y1="803.45" x2="453.7" y2="805.45" stroke="#444" stroke-width="1"/>
<text x="453.7" y="814.45" font-size="8.7" font-weight="bold" text-anchor="middle" fill="#000" >36</text>
<line x1="475.7" y1="803.45" x2="475.7" y2="805.45" stroke="#444" stroke-width="1"/>
<text x="475.7" y="814.45" font-size="8.7" font-weight="bold" text-anchor="middle" fill="#000" >48</text>
<line x1="497.7" y1="803.45" x2="497.7" y2="805.45" stroke="#444" stroke-width="1"/>
<text x="497.7" y="814.45" font-size="8.7" font-weight="bold" text-anchor="middle" fill="#000" >60</text>
<line x1="519.7" y1="803.45" x2="519.7" y2="805.45" stroke="#444" stroke-width="1"/>
<text x="519.7" y="814.45" font-size="8.7" font-weight="bold" text-anchor="middle" fill="#000" >72</text>
<line x1="541.7" y1="803.45" x2="541.7" y2="805.45" stroke="#444" stroke-width="1"/>
<text x="541.7" y="814.45" font-size="8.7" font-weight="bold" text-anchor="middle" fill="#000" >84</text>
<line x1="563.7" y1="803.45" x2="563.7" y2="805.45" stroke="#444" stroke-width="1"/>
<text x="563.7" y="814.45" font-size="8.7" font-weight="bold" text-anchor="middle" fill="#000" >96</text>
<text x="318" y="668.4" font-size="13.6" font-weight="bold" text-anchor="start" fill="#0e3270" stroke="#0e3270" stroke-width="0.35">F</text>
<text x="476.6" y="665.8" font-size="14.9" font-weight="bold" text-anchor="middle" fill="#000" >Survival</text>
<text transform="translate(349.8,738.4) rotate(-90)" font-size="11" font-weight="bold" text-anchor="middle">Probability of survival</text>
<text x="478.9" y="826.5" font-size="11.7" font-weight="bold" text-anchor="middle" fill="#000" >Time (months)</text>
<text x="498.9" y="789.8" font-size="14.2" font-weight="bold"><tspan font-style="italic">P</tspan> = 0.46</text>
<text x="154.25" y="264.5" font-size="13.65" font-weight="bold" text-anchor="middle" fill="#000" >Cumulative incidences of MCyR (%)</text>
<text x="42.2" y="284.5" font-size="10" font-weight="bold" text-anchor="middle" fill="#000" >Dose cohort</text>
<text x="101.9" y="284.5" font-size="10" font-weight="bold" text-anchor="middle" fill="#000" >1-year</text>
<text x="146.6" y="284.5" font-size="10" font-weight="bold" text-anchor="middle" fill="#000" >2-year</text>
<text x="191.35" y="284.5" font-size="10" font-weight="bold" text-anchor="middle" fill="#000" >3-year</text>
<text x="236.35" y="284.5" font-size="10" font-weight="bold" text-anchor="middle" fill="#000" >4-year</text>
<text x="281.05" y="284.5" font-size="10" font-weight="bold" text-anchor="middle" fill="#000" >5-year</text>
<text x="42.2" y="304.4" font-size="9.6" font-weight="normal" text-anchor="middle" fill="#2f7a22" stroke="#2f7a22" stroke-width="0.2">&#8212; 30 mg QOD</text>
<text x="101.9" y="305.7" font-size="12.0" font-weight="normal" text-anchor="middle" fill="#000" >67</text>
<text x="146.6" y="305.7" font-size="12.0" font-weight="normal" text-anchor="middle" fill="#000" >73</text>
<text x="191.35" y="305.7" font-size="12.0" font-weight="normal" text-anchor="middle" fill="#000" >77</text>
<text x="236.35" y="305.7" font-size="12.0" font-weight="normal" text-anchor="middle" fill="#000" >84</text>
<text x="281.05" y="305.7" font-size="12.0" font-weight="normal" text-anchor="middle" fill="#000" >84</text>
<text x="42.2" y="326.1" font-size="8.9" font-weight="normal" text-anchor="middle" fill="#e0101c" stroke="#e0101c" stroke-width="0.2">&#8212; 40 mg QOD</text>
<text x="101.9" y="327.4" font-size="12.0" font-weight="normal" text-anchor="middle" fill="#000" >64</text>
<text x="146.6" y="327.4" font-size="12.0" font-weight="normal" text-anchor="middle" fill="#000" >73</text>
<text x="191.35" y="327.4" font-size="12.0" font-weight="normal" text-anchor="middle" fill="#000" >82</text>
<text x="236.35" y="327.4" font-size="12.0" font-weight="normal" text-anchor="middle" fill="#000" >85</text>
<text x="281.05" y="327.4" font-size="12.0" font-weight="normal" text-anchor="middle" fill="#000" >85</text>
<rect x="5.1" y="249.6" width="298.3" height="83.7" fill="none" stroke="#222" stroke-width="1.6"/>
<line x1="5.1" y1="271" x2="303.4" y2="271" stroke="#222" stroke-width="1.6"/>
<line x1="5.1" y1="289.9" x2="303.4" y2="289.9" stroke="#222" stroke-width="1.6"/>
<line x1="5.1" y1="311.9" x2="303.4" y2="311.9" stroke="#222" stroke-width="1.6"/>
<line x1="79.3" y1="271" x2="79.3" y2="333.3" stroke="#222" stroke-width="1.6"/>
<line x1="124.5" y1="271" x2="124.5" y2="333.3" stroke="#222" stroke-width="1.6"/>
<line x1="168.7" y1="271" x2="168.7" y2="333.3" stroke="#222" stroke-width="1.6"/>
<line x1="214" y1="271" x2="214" y2="333.3" stroke="#222" stroke-width="1.6"/>
<line x1="258.7" y1="271" x2="258.7" y2="333.3" stroke="#222" stroke-width="1.6"/>
<text x="469.15" y="264.5" font-size="13.6" font-weight="bold" text-anchor="middle" fill="#000" >Cumulative incidences of MCyR (%)</text>
<text x="357.8" y="284.9" font-size="10" font-weight="bold" text-anchor="middle" fill="#000" >Dose cohort</text>
<text x="417.3" y="284.9" font-size="10" font-weight="bold" text-anchor="middle" fill="#000" >1-year</text>
<text x="462.2" y="284.9" font-size="10" font-weight="bold" text-anchor="middle" fill="#000" >2-year</text>
<text x="507.05" y="284.9" font-size="10" font-weight="bold" text-anchor="middle" fill="#000" >3-year</text>
<text x="551.9" y="284.9" font-size="10" font-weight="bold" text-anchor="middle" fill="#000" >4-year</text>
<text x="596.9" y="284.9" font-size="10" font-weight="bold" text-anchor="middle" fill="#000" >5-year</text>
<text x="357.8" y="304.4" font-size="8.9" font-weight="normal" text-anchor="middle" fill="#2f7a22" stroke="#2f7a22" stroke-width="0.2">&#8212; 30 mg QOD</text>
<text x="417.3" y="305.7" font-size="12.0" font-weight="normal" text-anchor="middle" fill="#000" >56</text>
<text x="462.2" y="305.7" font-size="12.0" font-weight="normal" text-anchor="middle" fill="#000" >68</text>
<text x="507.05" y="305.7" font-size="12.0" font-weight="normal" text-anchor="middle" fill="#000" >73</text>
<text x="551.9" y="305.7" font-size="12.0" font-weight="normal" text-anchor="middle" fill="#000" >73</text>
<text x="596.9" y="305.7" font-size="12.0" font-weight="normal" text-anchor="middle" fill="#000" >84</text>
<text x="357.8" y="326.1" font-size="8.9" font-weight="normal" text-anchor="middle" fill="#e0101c" stroke="#e0101c" stroke-width="0.2">&#8212; 40 mg QOD</text>
<text x="417.3" y="327.4" font-size="12.0" font-weight="normal" text-anchor="middle" fill="#000" >53</text>
<text x="462.2" y="327.4" font-size="12.0" font-weight="normal" text-anchor="middle" fill="#000" >62</text>
<text x="507.05" y="327.4" font-size="12.0" font-weight="normal" text-anchor="middle" fill="#000" >70</text>
<text x="551.9" y="327.4" font-size="12.0" font-weight="normal" text-anchor="middle" fill="#000" >71</text>
<text x="596.9" y="327.4" font-size="12.0" font-weight="normal" text-anchor="middle" fill="#000" >76</text>
<rect x="320.7" y="249.6" width="298.7" height="83.7" fill="none" stroke="#222" stroke-width="1.6"/>
<line x1="320.7" y1="271" x2="619.4" y2="271" stroke="#222" stroke-width="1.6"/>
<line x1="320.7" y1="289.9" x2="619.4" y2="289.9" stroke="#222" stroke-width="1.6"/>
<line x1="320.7" y1="311.9" x2="619.4" y2="311.9" stroke="#222" stroke-width="1.6"/>
<line x1="394.9" y1="271" x2="394.9" y2="333.3" stroke="#222" stroke-width="1.6"/>
<line x1="439.7" y1="271" x2="439.7" y2="333.3" stroke="#222" stroke-width="1.6"/>
<line x1="484.7" y1="271" x2="484.7" y2="333.3" stroke="#222" stroke-width="1.6"/>
<line x1="529.4" y1="271" x2="529.4" y2="333.3" stroke="#222" stroke-width="1.6"/>
<line x1="574.4" y1="271" x2="574.4" y2="333.3" stroke="#222" stroke-width="1.6"/>
<text x="151.95" y="557.5" font-size="13.9" font-weight="bold" text-anchor="middle" fill="#000" >Cumulative incidences of MMR (%)</text>
<text x="40.5" y="578.2" font-size="10" font-weight="bold" text-anchor="middle" fill="#000" >Dose cohort</text>
<text x="99.75" y="578.2" font-size="10" font-weight="bold" text-anchor="middle" fill="#000" >1-year</text>
<text x="144.45" y="578.2" font-size="10" font-weight="bold" text-anchor="middle" fill="#000" >2-year</text>
<text x="189" y="578.2" font-size="10" font-weight="bold" text-anchor="middle" fill="#000" >3-year</text>
<text x="233.5" y="578.2" font-size="10" font-weight="bold" text-anchor="middle" fill="#000" >4-year</text>
<text x="277.85" y="578.2" font-size="10" font-weight="bold" text-anchor="middle" fill="#000" >5-year</text>
<text x="40.5" y="597.5" font-size="8.9" font-weight="normal" text-anchor="middle" fill="#2f7a22" stroke="#2f7a22" stroke-width="0.2">&#8212; 30 mg QOD</text>
<text x="99.75" y="598.8" font-size="12.0" font-weight="normal" text-anchor="middle" fill="#000" >36</text>
<text x="144.45" y="598.8" font-size="12.0" font-weight="normal" text-anchor="middle" fill="#000" >40</text>
<text x="189" y="598.8" font-size="12.0" font-weight="normal" text-anchor="middle" fill="#000" >52</text>
<text x="233.5" y="598.8" font-size="12.0" font-weight="normal" text-anchor="middle" fill="#000" >52</text>
<text x="277.85" y="598.8" font-size="12.0" font-weight="normal" text-anchor="middle" fill="#000" >57</text>
<text x="40.5" y="619.2" font-size="8.9" font-weight="normal" text-anchor="middle" fill="#e0101c" stroke="#e0101c" stroke-width="0.2">&#8212; 40 mg QOD</text>
<text x="99.75" y="620.5" font-size="12.0" font-weight="normal" text-anchor="middle" fill="#000" >43</text>
<text x="144.45" y="620.5" font-size="12.0" font-weight="normal" text-anchor="middle" fill="#000" >53</text>
<text x="189" y="620.5" font-size="12.0" font-weight="normal" text-anchor="middle" fill="#000" >59</text>
<text x="233.5" y="620.5" font-size="12.0" font-weight="normal" text-anchor="middle" fill="#000" >59</text>
<text x="277.85" y="620.5" font-size="12.0" font-weight="normal" text-anchor="middle" fill="#000" >61</text>
<rect x="3.8" y="542.3" width="296.3" height="84.1" fill="none" stroke="#222" stroke-width="1.6"/>
<line x1="3.8" y1="563.8" x2="300.1" y2="563.8" stroke="#222" stroke-width="1.6"/>
<line x1="3.8" y1="583" x2="300.1" y2="583" stroke="#222" stroke-width="1.6"/>
<line x1="3.8" y1="605" x2="300.1" y2="605" stroke="#222" stroke-width="1.6"/>
<line x1="77.2" y1="563.8" x2="77.2" y2="626.4" stroke="#222" stroke-width="1.6"/>
<line x1="122.3" y1="563.8" x2="122.3" y2="626.4" stroke="#222" stroke-width="1.6"/>
<line x1="166.6" y1="563.8" x2="166.6" y2="626.4" stroke="#222" stroke-width="1.6"/>
<line x1="211.4" y1="563.8" x2="211.4" y2="626.4" stroke="#222" stroke-width="1.6"/>
<line x1="255.6" y1="563.8" x2="255.6" y2="626.4" stroke="#222" stroke-width="1.6"/>
<text x="471.1" y="557.5" font-size="14.0" font-weight="bold" text-anchor="middle" fill="#000" >Cumulative incidences of MR<tspan font-size="9" dy="-4.5">4</tspan><tspan dy="4.5"> (%)</tspan></text>
<text x="359.6" y="578.6" font-size="10" font-weight="bold" text-anchor="middle" fill="#000" >Dose cohort</text>
<text x="418.7" y="578.6" font-size="10" font-weight="bold" text-anchor="middle" fill="#000" >1-year</text>
<text x="463.35" y="578.6" font-size="10" font-weight="bold" text-anchor="middle" fill="#000" >2-year</text>
<text x="508.1" y="578.6" font-size="10" font-weight="bold" text-anchor="middle" fill="#000" >3-year</text>
<text x="552.85" y="578.6" font-size="10" font-weight="bold" text-anchor="middle" fill="#000" >4-year</text>
<text x="597.3" y="578.6" font-size="10" font-weight="bold" text-anchor="middle" fill="#000" >5-year</text>
<text x="359.6" y="597.5" font-size="8.9" font-weight="normal" text-anchor="middle" fill="#2f7a22" stroke="#2f7a22" stroke-width="0.2">&#8212; 30 mg QOD</text>
<text x="418.7" y="598.8" font-size="12.0" font-weight="normal" text-anchor="middle" fill="#000" >22</text>
<text x="463.35" y="598.8" font-size="12.0" font-weight="normal" text-anchor="middle" fill="#000" >29</text>
<text x="508.1" y="598.8" font-size="12.0" font-weight="normal" text-anchor="middle" fill="#000" >32</text>
<text x="552.85" y="598.8" font-size="12.0" font-weight="normal" text-anchor="middle" fill="#000" >32</text>
<text x="597.3" y="598.8" font-size="12.0" font-weight="normal" text-anchor="middle" fill="#000" >32</text>
<text x="359.6" y="619.2" font-size="8.9" font-weight="normal" text-anchor="middle" fill="#e0101c" stroke="#e0101c" stroke-width="0.2">&#8212; 40 mg QOD</text>
<text x="418.7" y="620.5" font-size="12.0" font-weight="normal" text-anchor="middle" fill="#000" >27</text>
<text x="463.35" y="620.5" font-size="12.0" font-weight="normal" text-anchor="middle" fill="#000" >38</text>
<text x="508.1" y="620.5" font-size="12.0" font-weight="normal" text-anchor="middle" fill="#000" >44</text>
<text x="552.85" y="620.5" font-size="12.0" font-weight="normal" text-anchor="middle" fill="#000" >51</text>
<text x="597.3" y="620.5" font-size="12.0" font-weight="normal" text-anchor="middle" fill="#000" >54</text>
<rect x="322.8" y="542.3" width="296.6" height="84.1" fill="none" stroke="#222" stroke-width="1.6"/>
<line x1="322.8" y1="563.8" x2="619.4" y2="563.8" stroke="#222" stroke-width="1.6"/>
<line x1="322.8" y1="583" x2="619.4" y2="583" stroke="#222" stroke-width="1.6"/>
<line x1="322.8" y1="605" x2="619.4" y2="605" stroke="#222" stroke-width="1.6"/>
<line x1="396.4" y1="563.8" x2="396.4" y2="626.4" stroke="#222" stroke-width="1.6"/>
<line x1="441" y1="563.8" x2="441" y2="626.4" stroke="#222" stroke-width="1.6"/>
<line x1="485.7" y1="563.8" x2="485.7" y2="626.4" stroke="#222" stroke-width="1.6"/>
<line x1="530.5" y1="563.8" x2="530.5" y2="626.4" stroke="#222" stroke-width="1.6"/>
<line x1="575.2" y1="563.8" x2="575.2" y2="626.4" stroke="#222" stroke-width="1.6"/>
<text x="151.7" y="850.8" font-size="13.0" font-weight="bold" text-anchor="middle" fill="#000" >Probabilities of PFS (%)</text>
<text x="40.75" y="871.4" font-size="10" font-weight="bold" text-anchor="middle" fill="#000" >Dose cohort</text>
<text x="99.6" y="871.4" font-size="10" font-weight="bold" text-anchor="middle" fill="#000" >1-year</text>
<text x="144.3" y="871.4" font-size="10" font-weight="bold" text-anchor="middle" fill="#000" >2-year</text>
<text x="188.75" y="871.4" font-size="10" font-weight="bold" text-anchor="middle" fill="#000" >3-year</text>
<text x="232.9" y="871.4" font-size="10" font-weight="bold" text-anchor="middle" fill="#000" >4-year</text>
<text x="277" y="871.4" font-size="10" font-weight="bold" text-anchor="middle" fill="#000" >5-year</text>
<text x="40.75" y="890.65" font-size="8.9" font-weight="normal" text-anchor="middle" fill="#2f7a22" stroke="#2f7a22" stroke-width="0.2">&#8212; 30 mg QOD</text>
<text x="99.6" y="891.95" font-size="12.0" font-weight="normal" text-anchor="middle" fill="#000" >89</text>
<text x="144.3" y="891.95" font-size="12.0" font-weight="normal" text-anchor="middle" fill="#000" >89</text>
<text x="188.75" y="891.95" font-size="12.0" font-weight="normal" text-anchor="middle" fill="#000" >87</text>
<text x="232.9" y="891.95" font-size="12.0" font-weight="normal" text-anchor="middle" fill="#000" >81</text>
<text x="277" y="891.95" font-size="12.0" font-weight="normal" text-anchor="middle" fill="#000" >78</text>
<text x="40.75" y="912" font-size="8.9" font-weight="normal" text-anchor="middle" fill="#e0101c" stroke="#e0101c" stroke-width="0.2">&#8212; 40 mg QOD</text>
<text x="99.6" y="913.3" font-size="12.0" font-weight="normal" text-anchor="middle" fill="#000" >92</text>
<text x="144.3" y="913.3" font-size="12.0" font-weight="normal" text-anchor="middle" fill="#000" >89</text>
<text x="188.75" y="913.3" font-size="12.0" font-weight="normal" text-anchor="middle" fill="#000" >86</text>
<text x="232.9" y="913.3" font-size="12.0" font-weight="normal" text-anchor="middle" fill="#000" >82</text>
<text x="277" y="913.3" font-size="12.0" font-weight="normal" text-anchor="middle" fill="#000" >78</text>
<rect x="4.3" y="836.6" width="294.8" height="82.4" fill="none" stroke="#222" stroke-width="1.6"/>
<line x1="4.3" y1="857.6" x2="299.1" y2="857.6" stroke="#222" stroke-width="1.6"/>
<line x1="4.3" y1="876.3" x2="299.1" y2="876.3" stroke="#222" stroke-width="1.6"/>
<line x1="4.3" y1="898" x2="299.1" y2="898" stroke="#222" stroke-width="1.6"/>
<line x1="77.2" y1="857.6" x2="77.2" y2="919" stroke="#222" stroke-width="1.6"/>
<line x1="122" y1="857.6" x2="122" y2="919" stroke="#222" stroke-width="1.6"/>
<line x1="166.6" y1="857.6" x2="166.6" y2="919" stroke="#222" stroke-width="1.6"/>
<line x1="210.9" y1="857.6" x2="210.9" y2="919" stroke="#222" stroke-width="1.6"/>
<line x1="254.9" y1="857.6" x2="254.9" y2="919" stroke="#222" stroke-width="1.6"/>
<text x="472.4" y="849.8" font-size="13.1" font-weight="bold" text-anchor="middle" fill="#000" >Probabilities of Survival (%)</text>
<text x="361.5" y="870.7" font-size="10" font-weight="bold" text-anchor="middle" fill="#000" >Dose cohort</text>
<text x="420.35" y="870.7" font-size="10" font-weight="bold" text-anchor="middle" fill="#000" >1-year</text>
<text x="464.5" y="870.7" font-size="10" font-weight="bold" text-anchor="middle" fill="#000" >2-year</text>
<text x="508.85" y="870.7" font-size="10" font-weight="bold" text-anchor="middle" fill="#000" >3-year</text>
<text x="553.35" y="870.7" font-size="10" font-weight="bold" text-anchor="middle" fill="#000" >4-year</text>
<text x="597.75" y="870.7" font-size="10" font-weight="bold" text-anchor="middle" fill="#000" >5-year</text>
<text x="361.5" y="890" font-size="8.9" font-weight="normal" text-anchor="middle" fill="#2f7a22" stroke="#2f7a22" stroke-width="0.2">&#8212; 30 mg QOD</text>
<text x="420.35" y="891.3" font-size="12.0" font-weight="normal" text-anchor="middle" fill="#000" >95</text>
<text x="464.5" y="891.3" font-size="12.0" font-weight="normal" text-anchor="middle" fill="#000" >95</text>
<text x="508.85" y="891.3" font-size="12.0" font-weight="normal" text-anchor="middle" fill="#000" >92</text>
<text x="553.35" y="891.3" font-size="12.0" font-weight="normal" text-anchor="middle" fill="#000" >86</text>
<text x="597.75" y="891.3" font-size="12.0" font-weight="normal" text-anchor="middle" fill="#000" >82</text>
<text x="361.5" y="911.35" font-size="8.9" font-weight="normal" text-anchor="middle" fill="#e0101c" stroke="#e0101c" stroke-width="0.2">&#8212; 40 mg QOD</text>
<text x="420.35" y="912.65" font-size="12.0" font-weight="normal" text-anchor="middle" fill="#000" >94</text>
<text x="464.5" y="912.65" font-size="12.0" font-weight="normal" text-anchor="middle" fill="#000" >91</text>
<text x="508.85" y="912.65" font-size="12.0" font-weight="normal" text-anchor="middle" fill="#000" >87</text>
<text x="553.35" y="912.65" font-size="12.0" font-weight="normal" text-anchor="middle" fill="#000" >84</text>
<text x="597.75" y="912.65" font-size="12.0" font-weight="normal" text-anchor="middle" fill="#000" >78</text>
<rect x="324.8" y="835.3" width="295.2" height="83.2" fill="none" stroke="#222" stroke-width="1.6"/>
<line x1="324.8" y1="856.6" x2="620" y2="856.6" stroke="#222" stroke-width="1.6"/>
<line x1="324.8" y1="875.8" x2="620" y2="875.8" stroke="#222" stroke-width="1.6"/>
<line x1="324.8" y1="897.2" x2="620" y2="897.2" stroke="#222" stroke-width="1.6"/>
<line x1="398.2" y1="856.6" x2="398.2" y2="918.5" stroke="#222" stroke-width="1.6"/>
<line x1="442.5" y1="856.6" x2="442.5" y2="918.5" stroke="#222" stroke-width="1.6"/>
<line x1="486.5" y1="856.6" x2="486.5" y2="918.5" stroke="#222" stroke-width="1.6"/>
<line x1="531.2" y1="856.6" x2="531.2" y2="918.5" stroke="#222" stroke-width="1.6"/>
<line x1="575.5" y1="856.6" x2="575.5" y2="918.5" stroke="#222" stroke-width="1.6"/>
</svg>
</body></html>
